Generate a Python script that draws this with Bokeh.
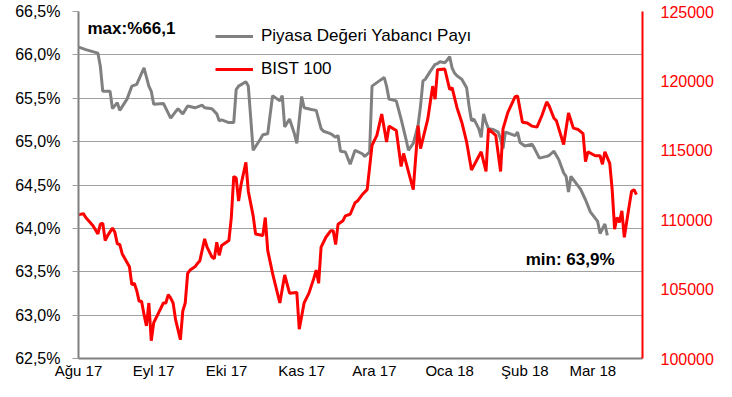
import pandas as pd
from bokeh.plotting import figure
from bokeh.models import (Range1d, LinearAxis, FixedTicker, NumeralTickFormatter,
                          Legend, LegendItem, Label, ColumnDataSource)
from bokeh.embed import file_html
from bokeh.resources import INLINE

# ---- data -------------------------------------------------------------
pay_dates = [
    "2017-08-01", "2017-08-02", "2017-08-04", "2017-08-09", "2017-08-10", "2017-08-11",
    "2017-08-14", "2017-08-15", "2017-08-17", "2017-08-18", "2017-08-21", "2017-08-23",
    "2017-08-25", "2017-08-28", "2017-08-30", "2017-08-31", "2017-09-01", "2017-09-05",
    "2017-09-08", "2017-09-11", "2017-09-13", "2017-09-15", "2017-09-18", "2017-09-21",
    "2017-09-22", "2017-09-25", "2017-09-27", "2017-09-28", "2017-09-29", "2017-10-02",
    "2017-10-04", "2017-10-05", "2017-10-06", "2017-10-09", "2017-10-10", "2017-10-12",
    "2017-10-15", "2017-10-16", "2017-10-18", "2017-10-20", "2017-10-22", "2017-10-23",
    "2017-10-24", "2017-10-25", "2017-10-27", "2017-10-29", "2017-10-30", "2017-11-01",
    "2017-11-02", "2017-11-05", "2017-11-07", "2017-11-09", "2017-11-10", "2017-11-12",
    "2017-11-13", "2017-11-14", "2017-11-15", "2017-11-16", "2017-11-17", "2017-11-19",
    "2017-11-21", "2017-11-23", "2017-11-26", "2017-11-27", "2017-11-29", "2017-11-30",
    "2017-12-03", "2017-12-05", "2017-12-06", "2017-12-07", "2017-12-10", "2017-12-12",
    "2017-12-14", "2017-12-15", "2017-12-17", "2017-12-19", "2017-12-20", "2017-12-21",
    "2017-12-22", "2017-12-24", "2017-12-26", "2017-12-27", "2017-12-28", "2017-12-30",
    "2017-12-31", "2018-01-01", "2018-01-02", "2018-01-03", "2018-01-04", "2018-01-06",
    "2018-01-08", "2018-01-09", "2018-01-10", "2018-01-11", "2018-01-13", "2018-01-14",
    "2018-01-15", "2018-01-16", "2018-01-17", "2018-01-19", "2018-01-21", "2018-01-22",
    "2018-01-23", "2018-01-24", "2018-01-26", "2018-01-28", "2018-01-29", "2018-01-30",
    "2018-02-01", "2018-02-04", "2018-02-05", "2018-02-07", "2018-02-10", "2018-02-11",
    "2018-02-13", "2018-02-15", "2018-02-17", "2018-02-18", "2018-02-19", "2018-02-20",
    "2018-02-24", "2018-02-26", "2018-02-28", "2018-03-03", "2018-03-04", "2018-03-06",
    "2018-03-07",
]
pay_values = [
    66.09, 66.08, 66.06, 66.02, 65.87, 65.58,
    65.58, 65.38, 65.45, 65.36, 65.49, 65.64,
    65.66, 65.85, 65.64, 65.58, 65.43, 65.44,
    65.27, 65.38, 65.32, 65.41, 65.39, 65.42,
    65.39, 65.38, 65.32, 65.24, 65.25, 65.22,
    65.22, 65.60, 65.64, 65.69, 65.64, 64.90,
    65.03, 65.08, 65.09, 65.53, 65.49, 65.47,
    65.53, 65.17, 65.26, 65.09, 64.98, 65.52,
    65.39, 65.37, 65.36, 65.15, 65.12, 65.10,
    65.09, 65.07, 65.05, 65.07, 64.89, 64.88,
    64.74, 64.90, 64.86, 64.83, 64.88, 65.64,
    65.70, 65.74, 65.64, 65.49, 65.47, 65.26,
    65.03, 64.90, 64.98, 65.19, 65.41, 65.70,
    65.72, 65.81, 65.89, 65.90, 65.92, 65.91,
    65.94, 65.98, 65.85, 65.79, 65.76, 65.72,
    65.62, 65.41, 65.24, 65.26, 65.15, 65.05,
    65.32, 65.22, 65.15, 65.14, 65.11, 65.03,
    64.92, 65.11, 65.09, 65.07, 65.11, 64.99,
    64.95, 64.97, 64.92, 64.81, 64.83, 64.84,
    64.89, 64.79, 64.64, 64.60, 64.42, 64.60,
    64.45, 64.33, 64.19, 64.08, 63.94, 64.05,
    63.92,
]

bist_dates = [
    "2017-08-01", "2017-08-03", "2017-08-04", "2017-08-07", "2017-08-09", "2017-08-10",
    "2017-08-11", "2017-08-12", "2017-08-13", "2017-08-15", "2017-08-16", "2017-08-17",
    "2017-08-18", "2017-08-19", "2017-08-22", "2017-08-23", "2017-08-24", "2017-08-25",
    "2017-08-26", "2017-08-27", "2017-08-28", "2017-08-29", "2017-08-30", "2017-08-31",
    "2017-09-01", "2017-09-03", "2017-09-05", "2017-09-06", "2017-09-07", "2017-09-08",
    "2017-09-09", "2017-09-10", "2017-09-12", "2017-09-13", "2017-09-14", "2017-09-15",
    "2017-09-16", "2017-09-18", "2017-09-19", "2017-09-20", "2017-09-22", "2017-09-23",
    "2017-09-25", "2017-09-26", "2017-09-27", "2017-09-28", "2017-09-29", "2017-10-02",
    "2017-10-03", "2017-10-04", "2017-10-05", "2017-10-06", "2017-10-07", "2017-10-09",
    "2017-10-10", "2017-10-12", "2017-10-13", "2017-10-16", "2017-10-17", "2017-10-18",
    "2017-10-20", "2017-10-23", "2017-10-25", "2017-10-27", "2017-10-30", "2017-10-31",
    "2017-11-02", "2017-11-04", "2017-11-06", "2017-11-07", "2017-11-08", "2017-11-09",
    "2017-11-11", "2017-11-13", "2017-11-14", "2017-11-15", "2017-11-16", "2017-11-18",
    "2017-11-19", "2017-11-21", "2017-11-23", "2017-11-24", "2017-11-26", "2017-11-28",
    "2017-11-30", "2017-12-02", "2017-12-04", "2017-12-06", "2017-12-07", "2017-12-10",
    "2017-12-12", "2017-12-13", "2017-12-17", "2017-12-19", "2017-12-20", "2017-12-23",
    "2017-12-25", "2017-12-26", "2017-12-27", "2017-12-30", "2018-01-01", "2018-01-02",
    "2018-01-04", "2018-01-06", "2018-01-08", "2018-01-10", "2018-01-14", "2018-01-16",
    "2018-01-17", "2018-01-20", "2018-01-22", "2018-01-23", "2018-01-25", "2018-01-28",
    "2018-01-29", "2018-01-31", "2018-02-02", "2018-02-04", "2018-02-06", "2018-02-08",
    "2018-02-10", "2018-02-11", "2018-02-13", "2018-02-14", "2018-02-17", "2018-02-19",
    "2018-02-21", "2018-02-23", "2018-02-25", "2018-02-26", "2018-02-27", "2018-03-02",
    "2018-03-04", "2018-03-05", "2018-03-06", "2018-03-08", "2018-03-09", "2018-03-10",
    "2018-03-11", "2018-03-12", "2018-03-13", "2018-03-14", "2018-03-16", "2018-03-17",
    "2018-03-18", "2018-03-19",
]
bist_values = [
    110348, 110440, 110156, 109566, 108970, 109680,
    109751, 108501, 108856, 109396, 109091, 108260,
    108217, 107549, 106605, 105305, 105419, 104900,
    104119, 104119, 103175, 102344, 103998, 101278,
    102578, 103288, 103998, 103998, 104595, 104354,
    103998, 102820, 101349, 103409, 103998, 106129,
    106371, 106605, 106839, 107031, 108615, 108025,
    107315, 107194, 108380, 107436, 108146, 108501,
    110156, 113117, 112997, 111342, 112521, 114133,
    112052, 110277, 108970, 108856, 110156, 107791,
    106129, 103998, 106015, 104709, 104758, 102109,
    103998, 104709, 105774, 106371, 105419, 108025,
    108735, 109211, 109211, 108217, 109680, 109921,
    110277, 110390, 111221, 111342, 111811, 112166,
    115362, 116072, 117613, 115603, 116740, 116427,
    113828, 114772, 112166, 116782, 115127, 117258,
    119623, 118678, 120809, 120858, 119388, 119509,
    118089, 117023, 115603, 113586, 114893, 113472,
    116548, 116072, 113472, 116548, 117734, 118870,
    118913, 117023, 116974, 116740, 116668, 117492,
    118487, 118202, 117308, 117137, 115411, 117684,
    116597, 116498, 116193, 114183, 114893, 114609,
    114609, 113991, 114893, 114062, 112166, 109325,
    110156, 109801, 110632, 108735, 110987, 112052,
    112166, 111811,
]

month_ticks = ["2017-08-01", "2017-09-01", "2017-10-01", "2017-11-01",
               "2017-12-01", "2018-01-01", "2018-02-01", "2018-03-01"]
month_labels = ["Ağu 17", "Eyl 17", "Eki 17", "Kas 17",
                "Ara 17", "Oca 18", "Şub 18", "Mar 18"]
left_ticks = [62.5, 63.0, 63.5, 64.0, 64.5, 65.0, 65.5, 66.0, 66.5]
right_ticks = [100000, 105000, 110000, 115000, 120000, 125000]

series_names = ["Piyasa Değeri Yabancı Payı", "BIST 100"]
max_text = "max:%66,1"
min_text = "min: 63,9%"

# ---- figure -------------------------------------------------------------
FONT = "Liberation Sans"
GRAY_LINE = "#808080"
GRID = "#A0A0A0"
RED = "#FF0000"

x_start = pd.Timestamp("2017-08-01")
x_end = pd.Timestamp("2018-03-21 12:00")

p = figure(width=716, height=381, output_backend="svg", toolbar_location=None,
           x_axis_type="datetime",
           x_range=Range1d(x_start, x_end),
           y_range=Range1d(left_ticks[0], left_ticks[-1]),
           min_border_left=78, min_border_right=72,
           min_border_top=11, min_border_bottom=20)
p.outline_line_color = None
p.background_fill_color = "white"
p.border_fill_color = "white"

p.extra_y_ranges = {"bist": Range1d(right_ticks[0], right_ticks[-1])}

# x axis
xa = p.xaxis[0]
tick_ms = [pd.Timestamp(d).timestamp() * 1000.0 for d in month_ticks]
xa.ticker = FixedTicker(ticks=tick_ms)
xa.major_label_overrides = {t: lab for t, lab in zip(tick_ms, month_labels)}
xa.axis_line_color = GRAY_LINE
xa.axis_line_width = 2
xa.major_tick_out = 0
xa.major_tick_in = 0
xa.minor_tick_out = 0
xa.minor_tick_in = 0
xa.major_label_standoff = 3
xa.major_label_text_font = FONT
xa.major_label_text_font_size = "15px"
xa.major_label_text_color = "black"

# left axis
ya = p.yaxis[0]
ya.ticker = FixedTicker(ticks=left_ticks)
ya.major_label_overrides = {t: (f"{t:.1f}%").replace(".", ",") for t in left_ticks}
ya.axis_line_color = GRAY_LINE
ya.axis_line_width = 2
ya.major_tick_out = 6
ya.major_tick_in = 0
ya.major_tick_line_color = GRID
ya.minor_tick_out = 0
ya.minor_tick_in = 0
ya.major_label_standoff = 12
ya.major_label_text_font = FONT
ya.major_label_text_font_size = "16px"
ya.major_label_text_color = "black"

# right axis
ra = LinearAxis(y_range_name="bist")
ra.ticker = FixedTicker(ticks=right_ticks)
ra.formatter = NumeralTickFormatter(format="0")
ra.axis_line_color = RED
ra.axis_line_width = 2
ra.major_tick_out = 0
ra.major_tick_in = 0
ra.minor_tick_out = 0
ra.minor_tick_in = 0
ra.major_label_standoff = 18
ra.major_label_text_font = FONT
ra.major_label_text_font_size = "16px"
ra.major_label_text_color = RED
p.add_layout(ra, "right")

p.xgrid.visible = False
p.ygrid.grid_line_color = GRID
p.ygrid.grid_line_width = 1

# series
src_pay = ColumnDataSource(dict(x=pd.to_datetime(pay_dates), y=pay_values))
src_bist = ColumnDataSource(dict(x=pd.to_datetime(bist_dates), y=bist_values))
r_pay = p.line("x", "y", source=src_pay, line_color=GRAY_LINE, line_width=3)
r_bist = p.line("x", "y", source=src_bist, line_color=RED, line_width=3,
                y_range_name="bist")

legend = Legend(items=[LegendItem(label=series_names[0], renderers=[r_pay]),
                       LegendItem(label=series_names[1], renderers=[r_bist])],
                location=(137, 279), orientation="vertical",
                glyph_width=38, glyph_height=20, label_height=20,
                label_standoff=8, spacing=13, padding=0, margin=0,
                label_text_font=FONT, label_text_font_size="17px",
                label_text_color="black",
                background_fill_alpha=0, border_line_color=None)
p.add_layout(legend)

p.add_layout(Label(x=9, y=330, x_units="screen", y_units="screen", text=max_text,
                   text_font=FONT, text_font_size="17px", text_font_style="bold",
                   text_color="black", text_baseline="middle", text_align="left"))
p.add_layout(Label(x=536, y=99, x_units="screen", y_units="screen", text=min_text,
                   text_font=FONT, text_font_size="17px", text_font_style="bold",
                   text_color="black", text_baseline="middle", text_align="right"))

open("out.html", "w").write(file_html(p, INLINE))
